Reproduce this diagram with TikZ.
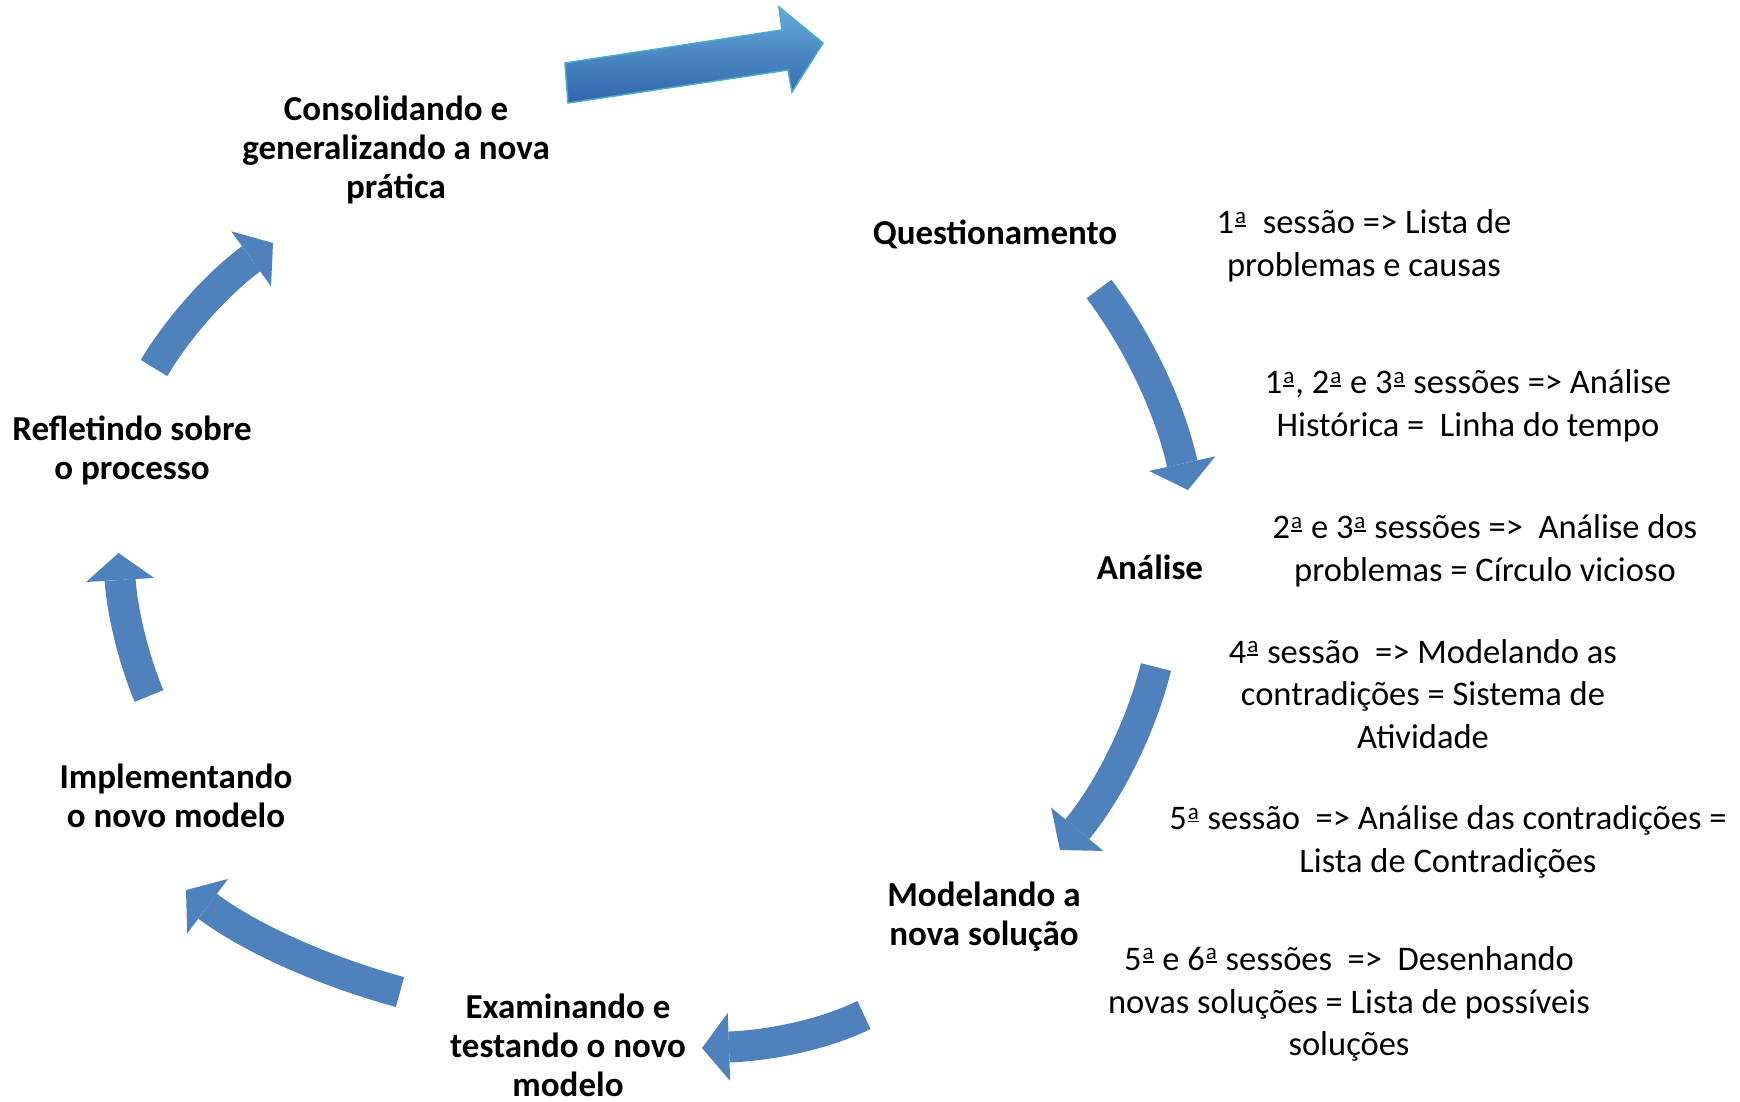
\documentclass[tikz,border=0pt]{standalone}
\usepackage{fontspec}
\setmainfont{Carlito}
\usetikzlibrary{arrows.meta}
\definecolor{arrowblue}{RGB}{79,129,189}
\definecolor{bevtop}{RGB}{100,170,220}
\definecolor{bevmid}{RGB}{70,125,190}
\definecolor{bevbot}{RGB}{50,100,170}
\definecolor{bevedge}{RGB}{75,172,198}
\newcommand\oa{\kern1pt\raisebox{10.5pt}{\fontsize{23}{23}\selectfont\vtop{\hbox{a}\kern1.3pt\hrule height 1.7pt}}\kern1pt}
\begin{document}
\begin{tikzpicture}[x=1pt,y=-1pt,
  lbl/.style={font=\fontsize{35}{39}\selectfont\bfseries, align=center, inner sep=0pt},
  note/.style={font=\fontsize{34.5}{42.7}\selectfont, align=center, inner sep=0pt},
  cyc/.style={line width=31pt, draw=arrowblue, line cap=butt,
    -{Triangle[width=68pt,length=27pt,line width=0pt]}}]
\useasboundingbox[fill=white] (0,0) rectangle (1740,1102);

% labels of the cycle
\node[lbl] (cons) at (396,150) {Consolidando e\\generalizando a nova\\prática};
\node[lbl] (quest) at (995,234) {Questionamento};
\node[lbl] (anal) at (1150,567) {Análise};
\node[lbl] (model) at (984,917) {Modelando a\\nova solução};
\node[lbl] (exam) at (568,1045) {Examinando e\\testando o novo\\modelo};
\node[lbl] (impl) at (176,796) {Implementando\\o novo modelo};
\node[lbl] (refl) at (132,450) {Refletindo sobre\\o processo};

% session notes
\node[note] (n1) at (1364,246) {1\oa~ sessão => Lista de\\problemas e causas};
\node[note] (n2) at (1468,406) {1\oa, 2\oa{} e 3\oa{} sessões => Análise\\Histórica =~ Linha do tempo};
\node[note] (n3) at (1485,551) {2\oa{} e 3\oa{} sessões =>~ Análise dos\\problemas = Círculo vicioso};
\node[note] (n4) at (1423,694) {4\oa{} sessão~ => Modelando as\\contradições = Sistema de\\Atividade};
\node[note] (n5) at (1448,842) {5\oa{} sessão~ => Análise das contradições =\\Lista de Contradições};
\node[note] (n6) at (1349,1004) {5\oa{} e 6\oa{} sessões~ =>~ Desenhando\\novas soluções = Lista de possíveis\\soluções};

% curved arrows
\coordinate (a1s) at (1099,289); \coordinate (a1e) at (1188,490);
\coordinate (a2s) at (1156,667); \coordinate (a2e) at (1060,850);
\coordinate (a3s) at (864,1015); \coordinate (a3e) at (702,1048);
\coordinate (a4s) at (400,992);  \coordinate (a4e) at (186,890);
\coordinate (a5s) at (149,696);  \coordinate (a5e) at (118.5,553);
\coordinate (a6s) at (154,368);  \coordinate (a6e) at (273,243);

\draw[cyc] (a1s) .. controls (1144,349) and (1172,417) .. (a1e);
\draw[cyc] (a2s) .. controls (1139,735) and (1104,797) .. (a2e);
\draw[cyc] (a3s) .. controls (814,1039) and (757,1046) .. (a3e);
\draw[cyc] (a4s) .. controls (323,971) and (250,938) .. (a4e);
\draw[cyc] (a5s) .. controls (130,650) and (121.5,603) .. (a5e);
\draw[cyc] (a6s) .. controls (184,318) and (226,277) .. (a6e);

% top straight 3D arrow
\shadedraw[top color=bevtop, middle color=bevmid, bottom color=bevbot,
  draw=bevedge, line width=1.5pt, line join=miter]
  (565,63) -- (782,30) -- (779,7) -- (823,43) -- (792,92) -- (788,70) -- (568,103) -- cycle;
\end{tikzpicture}
\end{document}
